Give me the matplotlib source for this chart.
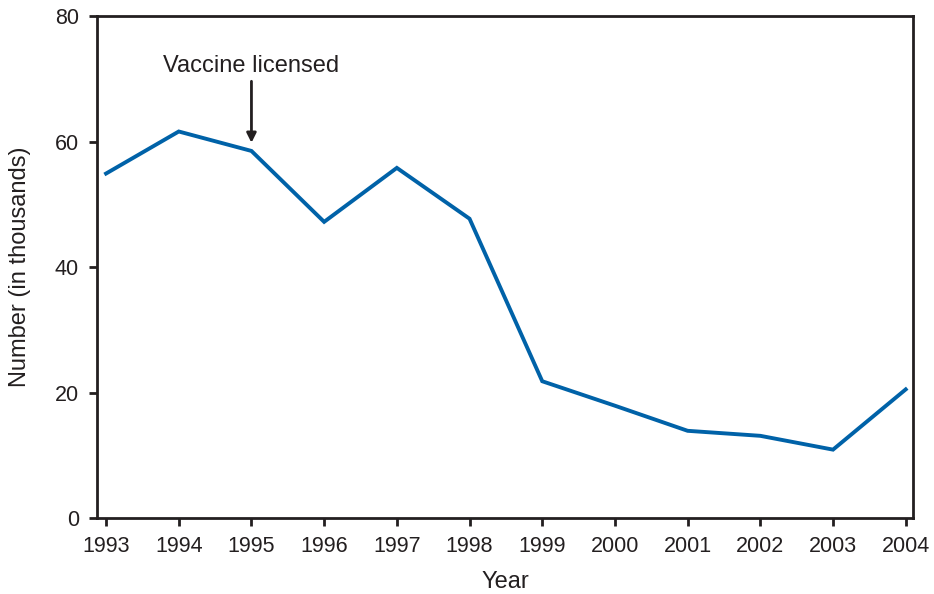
import matplotlib.pyplot as plt

plt.rcParams['font.family'] = ['Liberation Sans', 'DejaVu Sans']

# Reported cases by year (thousands)
years = [1993, 1994, 1995, 1996, 1997, 1998, 1999, 2000, 2001, 2002, 2003, 2004]
cases = [54.9, 61.6, 58.5, 47.2, 55.8, 47.7, 21.8, 17.9, 13.9, 13.1, 10.9, 20.5]
yticks = [0, 20, 40, 60, 80]

fig = plt.figure(figsize=(9.34, 5.94), dpi=100)
ax = fig.add_axes([0.1039, 0.1279, 0.8736, 0.8451])

ax.plot(years, cases, color='#0062a8', linewidth=2.8, solid_joinstyle='miter')

ax.set_xlim(1993 - 0.124, 2004 + 0.1)
ax.set_ylim(0, 80)
ax.set_xticks(years)
ax.set_yticks(yticks)

for s in ax.spines.values():
    s.set_linewidth(2)
    s.set_color('#231f20')
ax.tick_params(direction='out', length=6, width=2, color='#231f20',
               labelsize=15.5, labelcolor='#231f20', pad=7)

ax.set_xlabel('Year', fontsize=17, color='#231f20', labelpad=10)
ax.set_ylabel('Number (in thousands)', fontsize=17, color='#231f20', labelpad=17)

ax.annotate('', xy=(1995, 59.8), xytext=(1995, 69.6),
            arrowprops=dict(arrowstyle='-|>', color='#231f20', lw=2,
                            mutation_scale=14, shrinkA=0, shrinkB=0))
ax.text(1995, 72, 'Vaccine licensed', ha='center', va='center',
        fontsize=17, color='#231f20')

fig.savefig('out.png', dpi=100)
